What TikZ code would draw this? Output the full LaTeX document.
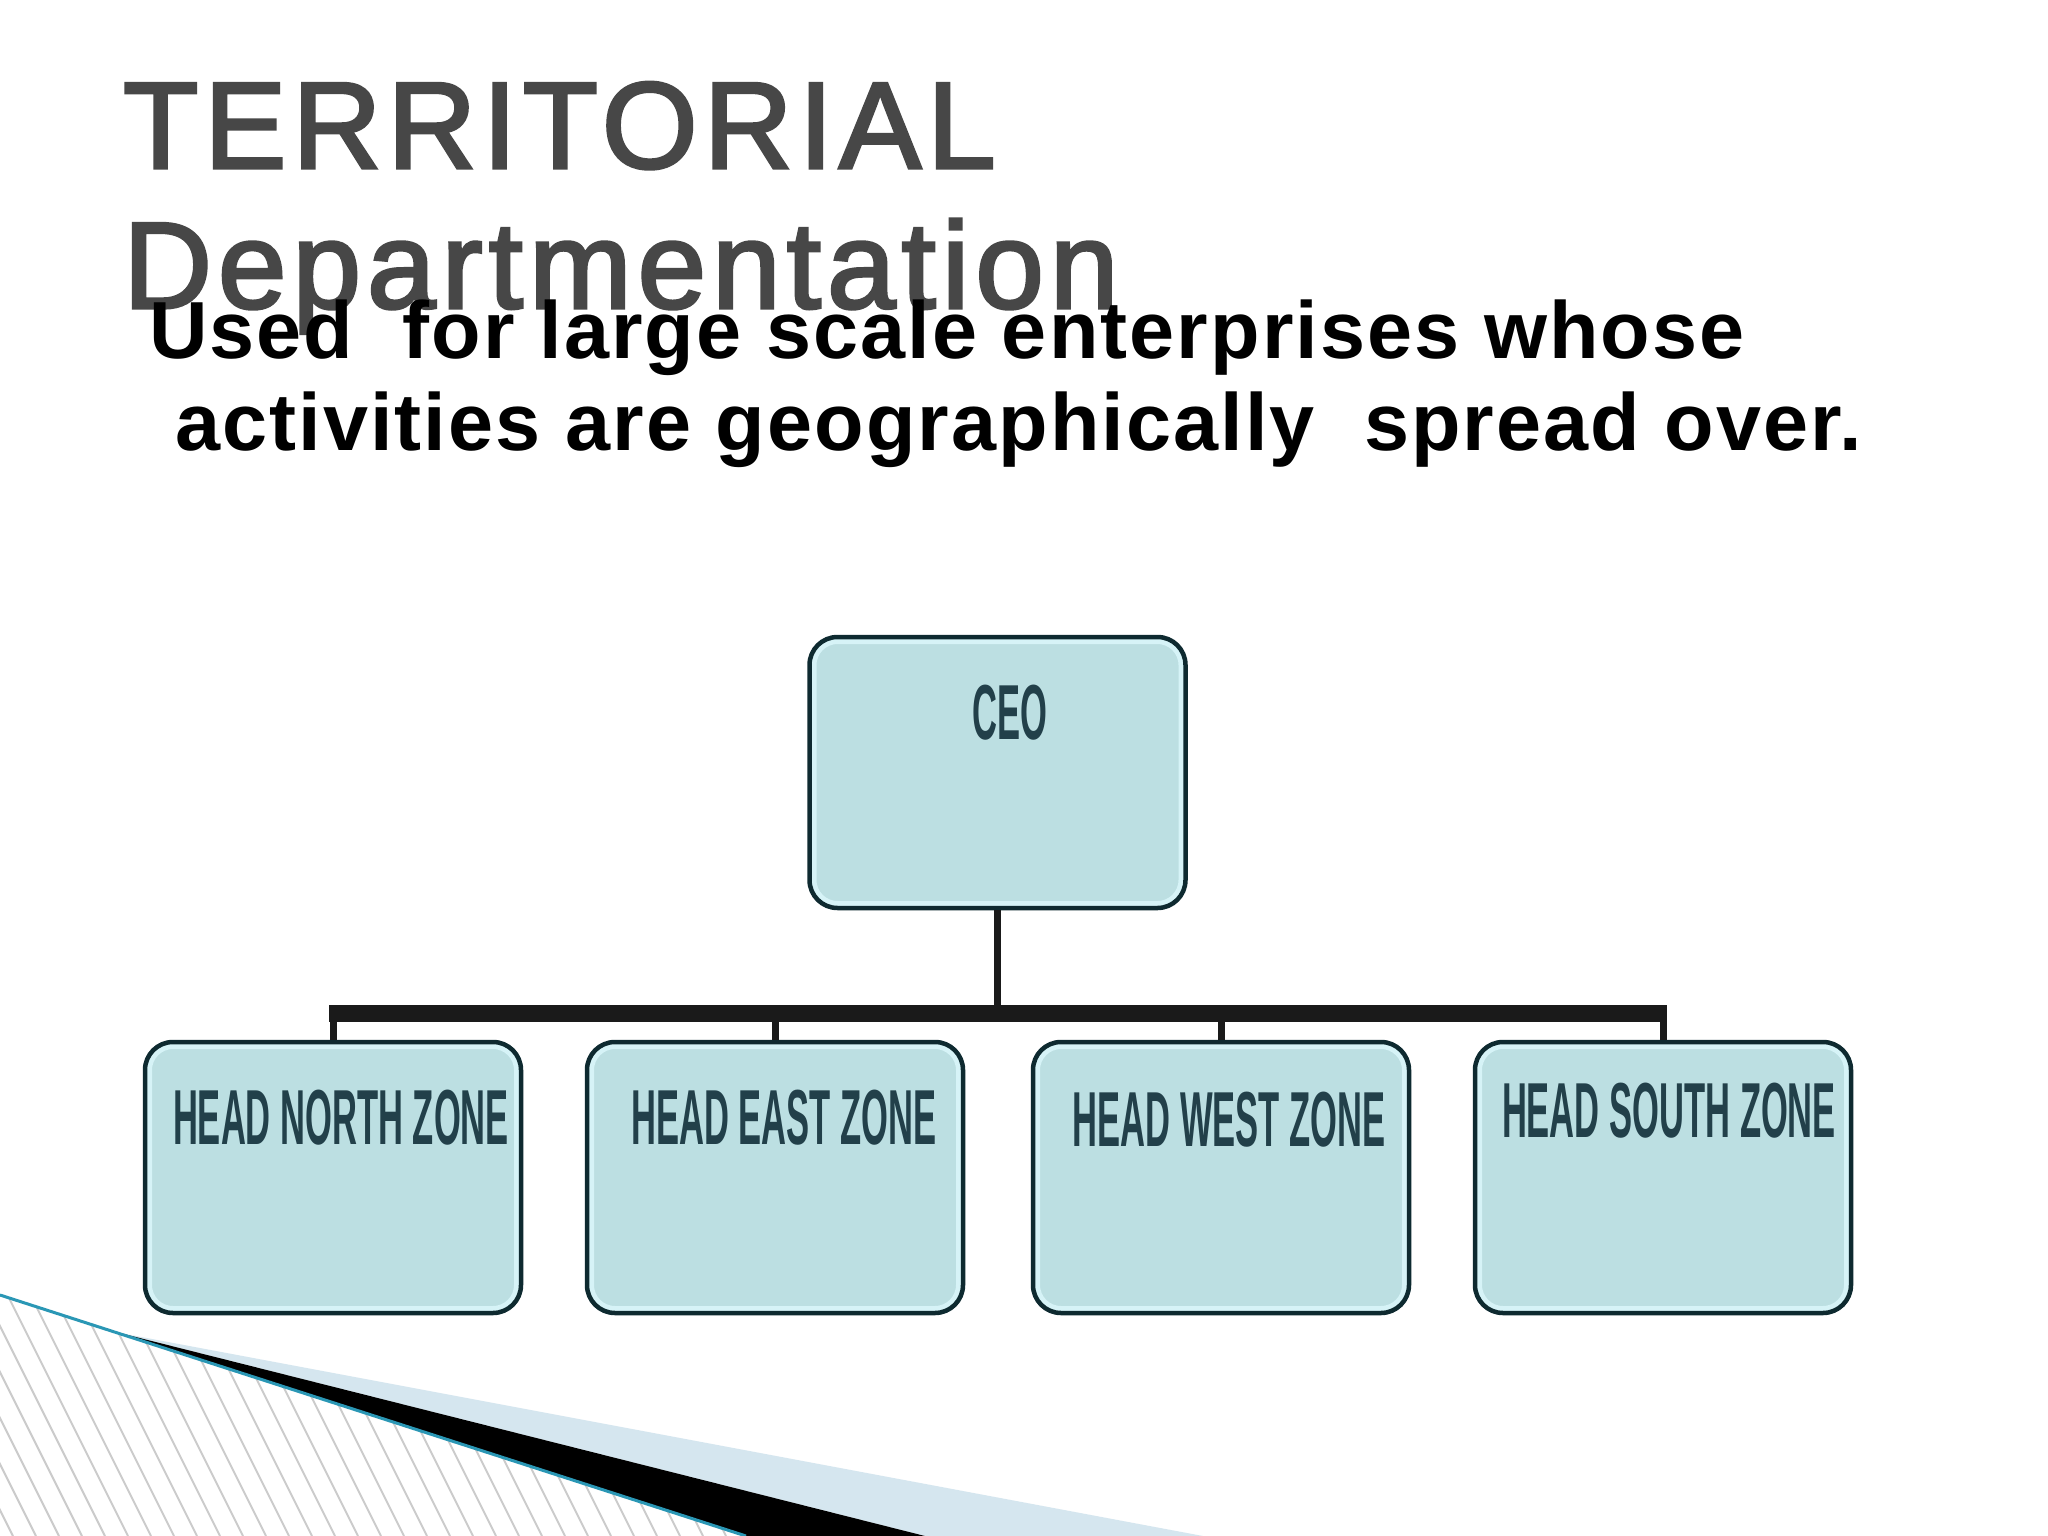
\documentclass[tikz,border=0pt]{standalone}
\usepackage{fontspec}
\usetikzlibrary{calc}
\newfontfamily\titlefont[LetterSpace=5.0,FakeBold=2.5]{Liberation Sans}
\newfontfamily\subfont[LetterSpace=2.6]{Liberation Sans}
\newfontfamily\boxfont[FakeStretch=0.443]{Liberation Sans}
\definecolor{titlegray}{HTML}{474747}
\definecolor{boxfill}{HTML}{BCDFE2}
\definecolor{boxlight}{HTML}{D6F3F7}
\definecolor{boxline}{HTML}{0E2A30}
\definecolor{boxtext}{HTML}{22404A}
\definecolor{barcol}{HTML}{1A1A1A}
\definecolor{tealline}{HTML}{2A97B5}
\definecolor{wedgeblue}{HTML}{D5E6EF}
\definecolor{hatchgray}{HTML}{CBCBCB}
\begin{document}
\begin{tikzpicture}[x=1pt,y=-1pt,
  zonebox/.style={draw=boxline, line width=4.5, fill=boxfill, rounded corners=28,
    minimum width=376, minimum height=271, inner sep=0,
    path picture={\draw[boxlight, line width=14, rounded corners=28]
      (path picture bounding box.south west) rectangle (path picture bounding box.north east);}},
  zonetext/.style={font=\boxfont\bfseries\fontsize{78}{80}\selectfont, text=boxtext, inner sep=0, anchor=base},
  titletext/.style={font=\titlefont\fontsize{123}{140}\selectfont, text=titlegray, inner sep=0, anchor=base west},
  subtext/.style={font=\subfont\bfseries\fontsize{81}{92}\selectfont, text=black, inner sep=0, anchor=base west},
  barline/.style={draw=barcol, line width=17},
  dropline/.style={draw=barcol, line width=7},
  hatchline/.style={draw=hatchgray, line width=2}
]
\path[use as bounding box, fill=white] (0,0) rectangle (2048,1536);

% decoration bottom-left
\begin{scope}
\clip (0,0) rectangle (2048,1536);
\begin{scope}
\clip (0,1295) -- (746,1536) -- (0,1536) -- cycle;
\foreach \i in {-8,...,36} \draw[hatchline] (\i*23,1280) -- (\i*23+128,1536);
\end{scope}
\fill[wedgeblue] (120,1333) -- (1203,1536) -- (925,1536) -- cycle;
\fill[black] (120,1333) -- (925,1536) -- (746,1536) -- cycle;
\draw[tealline, line width=3] (0,1295) -- (746,1536);
\end{scope}

% title and text
\node[titletext] (t1) at (123,168) {TERRITORIAL};
\node[titletext] (t2) at (123,308) {Departmentation};
\node[subtext] (s1) at (149,358) {Used\ \ for large scale enterprises whose};
\node[subtext] (s2) at (175,450) {activities are geographically\ \ spread over.};

% chart
\coordinate (barL) at (329,1013);
\coordinate (barR) at (1667,1013);
\node[zonebox] (ceo) at (997.5,772.5) {};
\node[zonebox] (north) at (333,1177.5) {};
\node[zonebox] (east) at (775,1177.5) {};
\node[zonebox] (west) at (1221,1177.5) {};
\node[zonebox] (south) at (1663,1177.5) {};

\draw[dropline] (ceo.south) -- (ceo.south |- barL);
\draw[dropline] (north.north) -- (north.north |- barL);
\draw[dropline] (east.north) -- (east.north |- barL);
\draw[dropline] (west.north) -- (west.north |- barL);
\draw[dropline] (south.north) -- (south.north |- barL);
\draw[barline] (barL) -- (barR);

\node[zonetext] (ceot) at ($(ceo.north)+(12,105)$) {CEO};
\node[zonetext] (northt) at ($(north.north)+(8,105)$) {HEAD NORTH ZONE};
\node[zonetext] (eastt) at ($(east.north)+(9,105)$) {HEAD EAST ZONE};
\node[zonetext] (westt) at ($(west.north)+(8,107)$) {HEAD WEST ZONE};
\node[zonetext] (southt) at ($(south.north)+(6,98)$) {HEAD SOUTH ZONE};
\end{tikzpicture}
\end{document}
